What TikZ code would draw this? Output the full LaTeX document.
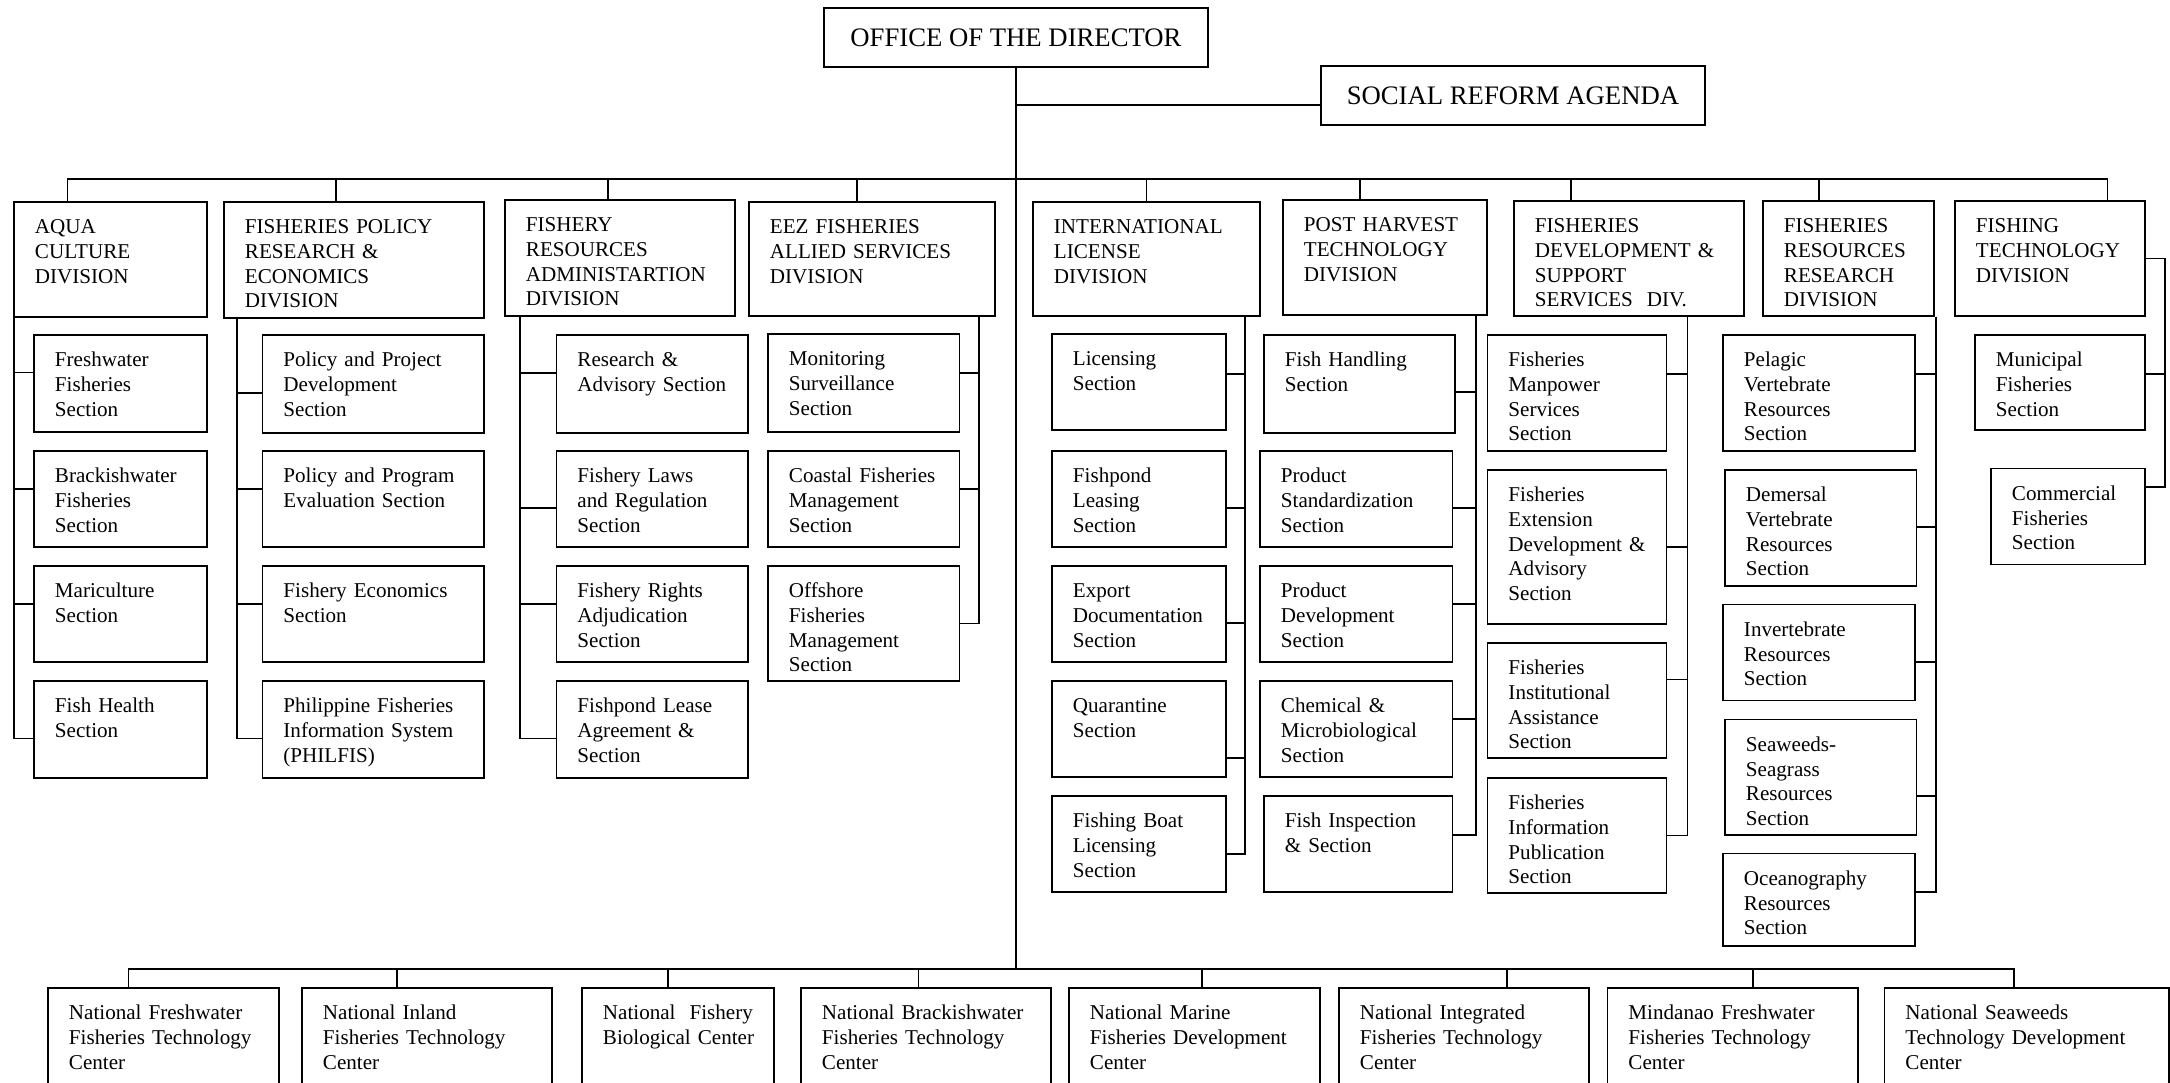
\documentclass[tikz,border=0pt]{standalone}
\usepackage{fontspec}
\setmainfont{Liberation Serif}
\usetikzlibrary{calc}
\newlength\px
\setlength\px{0.2mm}
\newcommand{\unitfont}{\fontsize{12}{14}\selectfont}
\newcommand{\dirfont}{\fontsize{15.2}{18}\selectfont}
\hyphenpenalty=10000
\tikzset{
  unitbox/.style={rectangle, draw, line width=1.1pt, anchor=north west, align=left,
    inner xsep=21*\px, inner ysep=0pt, text height=32*\px, font=\unitfont},
  boxsz/.style 2 args={text width=#1*\px, text depth=#2*\px},
  topbox/.style={rectangle, draw, line width=1.1pt, anchor=north west,
    minimum width=384*\px, minimum height=59*\px, font=\dirfont},
  link/.style={line width=1pt}
}
\begin{document}
\begin{tikzpicture}[x=0.2mm, y=-0.2mm]
  \useasboundingbox (0,0) rectangle (2170,1082);

  % Top offices
  \node[topbox] (dir) at (823,7) {OFFICE OF THE DIRECTOR};
  \node[topbox] (sra) at (1320,65) {SOCIAL REFORM AGENDA};

  % Divisions
  \node[unitbox, boxsz={151}{83}] (aqua) at (13,201) {AQUA\\CULTURE\\DIVISION};
  \node[unitbox, boxsz={218}{84}] (policy) at (223,201) {FISHERIES POLICY\\RESEARCH \&\\ECONOMICS\\DIVISION};
  \node[unitbox, boxsz={188}{84}] (fra) at (504,199) {FISHERY\\RESOURCES\\ADMINISTARTION\\DIVISION};
  \node[unitbox, boxsz={204}{82}] (eez) at (748,201) {EEZ FISHERIES\\ALLIED SERVICES\\DIVISION};
  \node[unitbox, boxsz={185}{82}] (intl) at (1032,201) {INTERNATIONAL\\LICENSE\\DIVISION};
  \node[unitbox, boxsz={162}{83}] (pht) at (1282,199) {POST HARVEST\\TECHNOLOGY\\DIVISION};
  \node[unitbox, boxsz={188}{83}] (fdss) at (1513,200) {FISHERIES\\\mbox{DEVELOPMENT \&}\\SUPPORT\\\mbox{SERVICES~ DIV.}};
  \node[unitbox, boxsz={129}{83}] (frrd) at (1762,200) {FISHERIES\\RESOURCES\\RESEARCH\\DIVISION};
  \node[unitbox, boxsz={148}{83}] (ftd) at (1954,200) {FISHING\\TECHNOLOGY\\DIVISION};

  % Aquaculture sections
  \node[unitbox, boxsz={131}{65}] (fresh) at (33,334) {Freshwater\\Fisheries\\Section};
  \node[unitbox, boxsz={131}{64}] (brack) at (33,450) {Brackishwater\\Fisheries\\Section};
  \node[unitbox, boxsz={131}{64}] (mari) at (33,565) {Mariculture\\Section};
  \node[unitbox, boxsz={131}{65}] (fhealth) at (33,680) {Fish Health\\Section};

  % Policy sections
  \node[unitbox, boxsz={179.5}{66}] (ppd) at (261.5,334) {Policy and Project\\Development\\Section};
  \node[unitbox, boxsz={179.5}{64}] (ppe) at (261.5,450) {Policy and Program\\Evaluation Section};
  \node[unitbox, boxsz={179.5}{64}] (fecon) at (261.5,565) {Fishery Economics\\Section};
  \node[unitbox, boxsz={179.5}{65}] (philfis) at (261.5,680) {Philippine Fisheries\\Information System\\(PHILFIS)};

  % Resources administration sections
  \node[unitbox, boxsz={149.5}{66}] (rad) at (555.5,334) {Research \&\\\mbox{Advisory Section}};
  \node[unitbox, boxsz={149.5}{64}] (flaw) at (555.5,450) {Fishery Laws\\and Regulation\\Section};
  \node[unitbox, boxsz={149.5}{64}] (frights) at (555.5,565) {Fishery Rights\\Adjudication\\Section};
  \node[unitbox, boxsz={149.5}{65}] (flease) at (555.5,680) {Fishpond Lease\\Agreement \&\\Section};

  % EEZ sections
  \node[unitbox, boxsz={149.5}{66}] (mon) at (767,333) {Monitoring\\Surveillance\\Section};
  \node[unitbox, boxsz={149.5}{64}] (coast) at (767,450) {\mbox{Coastal Fisheries}\\Management\\Section};
  \node[unitbox, boxsz={149.5}{83}] (offshore) at (767,565) {Offshore\\Fisheries\\Management\\Section};

  % License sections
  \node[unitbox, boxsz={132}{64}] (lic) at (1051,333) {Licensing\\Section};
  \node[unitbox, boxsz={132}{64}] (fpl) at (1051,450) {Fishpond\\Leasing\\Section};
  \node[unitbox, boxsz={132}{64}] (export) at (1051,565) {Export\\Documentation\\Section};
  \node[unitbox, boxsz={132}{64}] (quar) at (1051,680) {Quarantine\\Section};
  \node[unitbox, boxsz={132}{64}] (fboat) at (1051,795) {Fishing Boat\\Licensing\\Section};

  % Post harvest sections
  \node[unitbox, boxsz={149}{66}] (fhand) at (1263,334) {Fish Handling\\Section};
  \node[unitbox, boxsz={150.5}{64}] (pstd) at (1259,450) {Product\\Standardization\\Section};
  \node[unitbox, boxsz={150.5}{64}] (pdev) at (1259,565) {Product\\Development\\Section};
  \node[unitbox, boxsz={150.5}{64}] (chem) at (1259,680) {Chemical \&\\Microbiological\\Section};
  \node[unitbox, boxsz={146.5}{64}] (finsp) at (1263,795) {\mbox{Fish Inspection}\\\& Section};

  % Development and support sections
  \node[unitbox, boxsz={137}{84}] (fman) at (1486.5,334) {Fisheries\\Manpower\\Services\\Section};
  \node[unitbox, boxsz={137}{122}] (fext) at (1486.5,469) {Fisheries\\Extension\\\mbox{Development \&}\\Advisory\\Section};
  \node[unitbox, boxsz={137}{83}] (finst) at (1486.5,642) {Fisheries\\Institutional\\Assistance\\Section};
  \node[unitbox, boxsz={137}{83}] (finfo) at (1486.5,777) {Fisheries\\Information\\Publication\\Section};

  % Resources research sections
  \node[unitbox, boxsz={150}{84}] (pel) at (1722,334) {Pelagic\\Vertebrate\\Resources\\Section};
  \node[unitbox, boxsz={149.5}{84}] (dem) at (1724,469) {Demersal\\Vertebrate\\Resources\\Section};
  \node[unitbox, boxsz={150}{64}] (invert) at (1722,603.5) {Invertebrate\\Resources\\Section};
  \node[unitbox, boxsz={149.5}{83.5}] (seaweed) at (1724,718.5) {Seaweeds-\\Seagrass\\Resources\\Section};
  \node[unitbox, boxsz={150}{60.5}] (ocean) at (1722,852.5) {Oceanography\\Resources\\Section};

  % Fishing technology sections
  \node[unitbox, boxsz={128}{63}] (muni) at (1974,334) {Municipal\\Fisheries\\Section};
  \node[unitbox, boxsz={112}{64}] (comm) at (1990,467.5) {Commercial\\Fisheries\\Section};

  % Technology centers
  \node[unitbox, boxsz={189}{88}] (nfftc) at (47,987) {National Freshwater\\\mbox{Fisheries Technology}\\Center};
  \node[unitbox, boxsz={208}{88}] (nift) at (301,987) {National Inland\\\mbox{Fisheries Technology}\\Center};
  \node[unitbox, boxsz={150}{88}] (nfbc) at (581,987) {\mbox{National~ Fishery}\\\mbox{Biological Center}};
  \node[unitbox, boxsz={208}{88}] (nbftc) at (800,987) {\mbox{National Brackishwater}\\\mbox{Fisheries Technology}\\Center};
  \node[unitbox, boxsz={209}{88}] (nmfdc) at (1068,987) {National Marine\\\mbox{Fisheries Development}\\Center};
  \node[unitbox, boxsz={208}{88}] (nintc) at (1338,987) {National Integrated\\\mbox{Fisheries Technology}\\Center};
  \node[unitbox, boxsz={208.5}{88}] (mfftc) at (1606.5,987) {Mindanao Freshwater\\\mbox{Fisheries Technology}\\Center};
  \node[unitbox, boxsz={242.5}{88}] (nstdc) at (1883.5,987) {National Seaweeds\\\mbox{Technology Development}\\Center};

  % Trunk and buses
  \coordinate (topbus) at ($(dir.south)+(0,111)$);
  \coordinate (botbus) at ($(dir.south)+(0,901)$);
  \draw[link] (dir.south) -- (botbus);
  \draw[link] ($(sra.north west)!.66!(sra.south west)$) coordinate (sraj) -- (sraj -| dir.south);
  \foreach \dv/\fr in {aqua/.28, policy/.43, fra/.45, eez/.44, intl/.5, pht/.38, fdss/.25, frrd/.33, ftd/.8}
    \draw[link] ($(\dv.north west)!\fr!(\dv.north east)$) |- (topbus);
  \foreach \cn/\fr in {nfftc/.35, nift/.38, nfbc/.45, nbftc/.47, nmfdc/.53, nintc/.67, mfftc/.58, nstdc/.455}
    \draw[link] ($(\cn.north west)!\fr!(\cn.north east)$) |- (botbus);

  % Left-hand spines
  \coordinate (aquasp) at ($(aqua.south west)+(1,0)$);
  \coordinate (policysp) at ($(policy.south west)+(14,0)$);
  \coordinate (frasp) at ($(fra.south west)+(16,0)$);
  \foreach \nm/\fr in {fresh/.39, brack/.4, mari/.4, fhealth/.59}
    \draw[link] (aquasp) |- ($(\nm.north west)!\fr!(\nm.south west)$);
  \foreach \nm/\fr in {ppd/.59, ppe/.4, fecon/.4, philfis/.59}
    \draw[link] (policysp) |- ($(\nm.north west)!\fr!(\nm.south west)$);
  \foreach \nm/\fr in {rad/.39, flaw/.59, frights/.4, flease/.59}
    \draw[link] (frasp) |- ($(\nm.north west)!\fr!(\nm.south west)$);

  % Right-hand spines
  \coordinate (eezsp) at ($(eez.south east)+(-17,0)$);
  \coordinate (intlsp) at ($(intl.south east)+(-16,0)$);
  \coordinate (phtsp) at ($(pht.south east)+(-12,0)$);
  \coordinate (fdsssp) at ($(fdss.south east)+(-57.5,0)$);
  \coordinate (frrdsp) at ($(frrd.south east)+(1,0)$);
  \draw[link] (ftd.east) -- ++(19,0) coordinate (ftdsp);
  \foreach \nm/\fr in {mon/.4, coast/.4, offshore/.5}
    \draw[link] (eezsp) |- ($(\nm.north east)!\fr!(\nm.south east)$);
  \foreach \nm/\fr in {lic/.42, fpl/.59, export/.59, quar/.8, fboat/.6}
    \draw[link] (intlsp) |- ($(\nm.north east)!\fr!(\nm.south east)$);
  \foreach \nm/\fr in {fhand/.58, pstd/.59, pdev/.4, chem/.4, finsp/.41}
    \draw[link] (phtsp) |- ($(\nm.north east)!\fr!(\nm.south east)$);
  \foreach \nm/\fr in {fman/.34, fext/.5, finst/.32, finfo/.5}
    \draw[link] (fdsssp) |- ($(\nm.north east)!\fr!(\nm.south east)$);
  \foreach \nm/\fr in {pel/.34, dem/.49, invert/.6, seaweed/.66, ocean/.42}
    \draw[link] (frrdsp) |- ($(\nm.north east)!\fr!(\nm.south east)$);
  \foreach \nm/\fr in {muni/.41, comm/.2}
    \draw[link] (ftdsp) |- ($(\nm.north east)!\fr!(\nm.south east)$);
\end{tikzpicture}
\end{document}
